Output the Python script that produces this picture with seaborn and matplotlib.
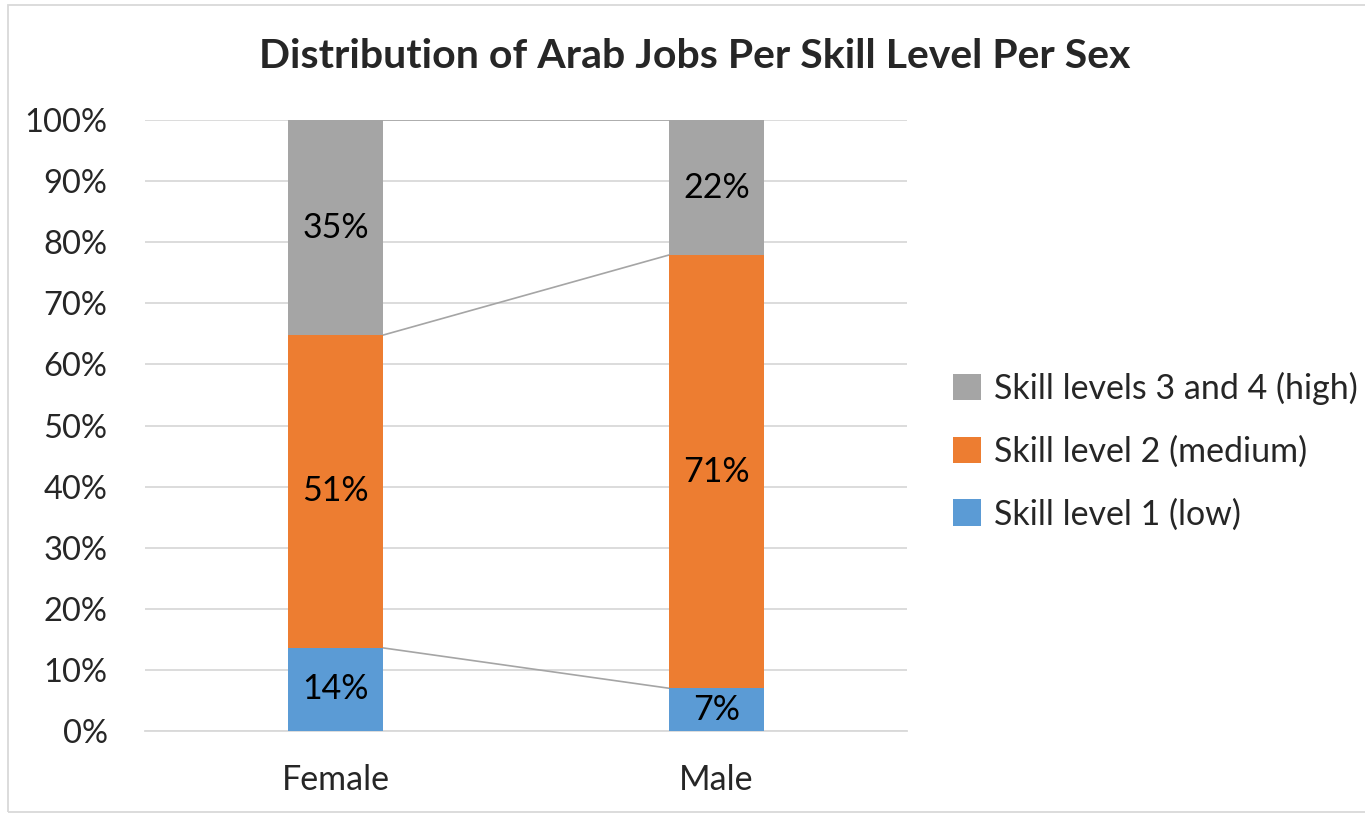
import matplotlib
matplotlib.use("Agg")
import matplotlib.pyplot as plt
import seaborn as sns
import pandas as pd
import numpy as np
from matplotlib.patches import Patch, Rectangle

sexes = ["Female", "Male"]
levels = ["Skill levels 3 and 4 (high)", "Skill level 2 (medium)", "Skill level 1 (low)"]
low = [13.6, 7.0]
medium = [51.2, 70.9]
high = [35.2, 22.1]
colors = ["#A5A5A5", "#ED7D31", "#5B9BD5"]
yticks = list(range(0, 101, 10))

sns.set_theme(style="white")
plt.rcParams['font.family'] = ['Lato', 'DejaVu Sans']

fig = plt.figure(figsize=(13.65, 8.14), dpi=100)
ax = fig.add_axes([145/1365, 1-731/814, (907-145)/1365, (731-120)/814])

low_a = np.array(low); med_a = np.array(medium); high_a = np.array(high)
cum_low = low_a
cum_med = low_a + med_a
cum_high = low_a + med_a + high_a

# draw overlapping cumulative bars from top to bottom
for cum, col in [(cum_high, colors[0]), (cum_med, colors[1]), (cum_low, colors[2])]:
    df = pd.DataFrame({"sex": sexes, "val": cum})
    sns.barplot(data=df, x="sex", y="val", color=col, width=0.25, ax=ax,
                saturation=1, zorder=3, linewidth=0)

# series lines
hw = 0.125
for cum in [cum_high, cum_med, cum_low]:
    ax.plot([0 + hw, 1 - hw], [cum[0], cum[1]], color="#A5A5A5", lw=1.2, zorder=2)

# labels
for i in range(2):
    segs = [(0, low_a[i]), (low_a[i], med_a[i]), (low_a[i] + med_a[i], high_a[i])]
    for b, v in segs:
        ax.text(i, b + v / 2, f"{round(v):.0f}%", ha="center", va="center",
                fontsize=24.5, color="black", zorder=4)

ax.set_ylim(0, 100)
ax.set_xlim(-0.5, 1.5)
ax.set_yticks(yticks)
ax.set_yticklabels([f"{t}%" for t in yticks], fontsize=23.5)
ax.tick_params(axis="x", labelsize=24.5, pad=24, length=0)
ax.tick_params(axis="y", pad=27, length=0)
ax.yaxis.grid(True, color="#D9D9D9", lw=1.3, zorder=0)
ax.set_axisbelow(True)
for s in ["top", "right", "left"]:
    ax.spines[s].set_visible(False)
ax.spines["bottom"].set_color("#D9D9D9")
ax.spines["bottom"].set_linewidth(1.3)
ax.set_xlabel("")
ax.set_ylabel("")

fig.text(695/1365, 1-57/814, "Distribution of Arab Jobs Per Skill Level Per Sex",
         ha="center", va="center", fontsize=29.5, fontweight="bold")

handles = [Patch(facecolor=c, edgecolor="none") for c in colors]
fig.legend(handles, levels, loc="center left", bbox_to_anchor=(953/1365, 1-451/814),
           frameon=False, fontsize=24.5, handlelength=0.82, handleheight=0.82,
           handletextpad=0.38, labelspacing=0.9, borderpad=0, borderaxespad=0)

fig.patches.append(Rectangle((8/1365, 0.003), 1.2, 1-5/814-0.003, transform=fig.transFigure,
                             fill=False, edgecolor="#D9D9D9", lw=1.3))

fig.savefig("out.png", dpi=100)
